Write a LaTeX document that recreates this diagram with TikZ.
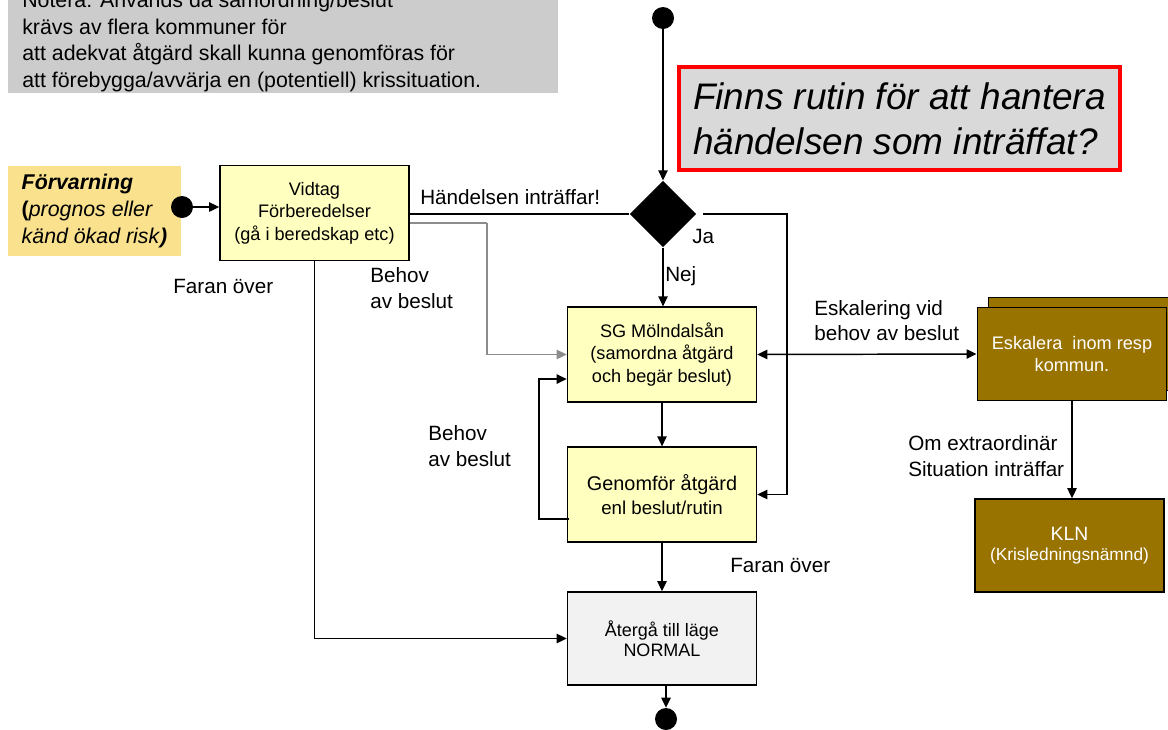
\documentclass[tikz,border=0pt]{standalone}
\usepackage{fontspec}
\setmainfont{Liberation Sans}
\usetikzlibrary{arrows.meta,shapes.geometric,calc}
\definecolor{notegray}{HTML}{CCCCCC}
\definecolor{boxyellow}{HTML}{FFFFC0}
\definecolor{warnyellow}{HTML}{F9E18D}
\definecolor{eskbrown}{HTML}{997300}
\definecolor{qgray}{HTML}{D9D9D9}
\definecolor{retgray}{HTML}{F2F2F2}
\definecolor{linegray}{HTML}{8C8C8C}
\begin{document}
\begin{tikzpicture}[x=0.75pt,y=-0.75pt,
  flowbox/.style={draw=black, line width=1.2pt, fill=boxyellow, align=center, inner sep=0pt,
    minimum width=141.75pt, minimum height=71pt},
  eskbox/.style={draw=black, line width=1.2pt, fill=eskbrown, text=white, align=center, inner sep=0pt,
    minimum width=142pt, minimum height=70pt},
  dot/.style={circle, fill=black, minimum size=16.5pt, inner sep=0pt},
  lbl/.style={font=\fontsize{15.5pt}{19pt}\selectfont, inner sep=0pt, align=left, anchor=west},
  conn/.style={line width=1.1pt, draw=black},
  arr/.style={conn, -{Triangle[length=7.5pt,width=7pt]}},
  grayarr/.style={line width=1.1pt, draw=linegray, -{Triangle[length=7.5pt,width=7pt]}},
  biarr/.style={conn, {Triangle[length=7.5pt,width=7pt]}-{Triangle[length=7.5pt,width=7pt]}}
]
\useasboundingbox (0,0) rectangle (1168,729);

% note box
\fill[notegray] (8,-30) rectangle (558,93);
\node[font=\fontsize{16pt}{20pt}\selectfont, align=left, anchor=west, inner sep=0pt] (note) at (22,41)
  {Notera: Används då samordning/beslut\\krävs av flera kommuner för\\att adekvat åtgärd skall kunna genomföras för\\att förebygga/avvärja en (potentiell) krissituation.};

% question box
\node[draw=red, line width=3pt, fill=qgray, minimum width=330.75pt, minimum height=77.25pt,
  align=left, inner sep=0pt, font=\fontsize{27.7pt}{34pt}\selectfont\itshape] (q) at (899.5,118.5)
  {Finns rutin för att hantera\\händelsen som inträffat?};

% start and decision
\node[dot] (start) at (663,18) {};
\node[diamond, fill=black, minimum width=50pt, minimum height=50pt, inner sep=0pt] (dia) at (663,214) {};

% warning box
\node[fill=warnyellow, minimum width=129.75pt, minimum height=67.5pt, inner sep=0pt,
  align=left, font=\fontsize{16pt}{20pt}\selectfont] (warn) at (94.5,211)
  {\textbf{\textit{Förvarning}}\\\textbf{(}\textit{prognos eller}\\\textit{känd ökad risk}\textbf{\textit{)}}};
\node[dot] (wdot) at (182,207) {};

% boxes
\node[flowbox, font=\fontsize{13.6pt}{17pt}\selectfont] (vid) at (314.5,213) {Vidtag\\Förberedelser\\(gå i beredskap etc)};
\node[flowbox, font=\fontsize{13.6pt}{17pt}\selectfont] (sg) at (662,354.5) {SG Mölndalsån\\(samordna åtgärd\\och begär beslut)};
\node[flowbox, font=\fontsize{14.9pt}{17.6pt}\selectfont] (gen) at (662,494.5) {Genomför åtgärd\\{\fontsize{14pt}{17.6pt}\selectfont enl beslut/rutin}};
\node[flowbox, fill=retgray, minimum height=69.75pt, font=\fontsize{13.5pt}{15pt}\selectfont] (rec) at (662,638.5) {Återgå till läge\\NORMAL};
\node[dot] (endc) at (666,719) {};

% escalation boxes
\node[eskbox] (eskback) at (1083,344) {};
\node[eskbox, font=\fontsize{13.6pt}{16.5pt}\selectfont] (esk) at (1072,354) {Eskalera\ \ inom resp\\kommun.};
\node[eskbox, minimum height=69.75pt, font=\fontsize{13pt}{15pt}\selectfont] (kln) at (1069.5,545.5)
  {{\fontsize{14.5pt}{15pt}\selectfont KLN}\\(Krisledningsnämnd)};

% coordinates
\coordinate (g1) at (487,223);
\coordinate (r1) at (787,214);
\coordinate (lx) at (539,0);
\coordinate (ga) at ([xshift=2pt,yshift=-18.4pt]gen.west);
\coordinate (sa) at ([yshift=-18.4pt]sg.west);
\coordinate (vg) at ([yshift=-7.5pt]vid.east);

% connectors
\draw[arr] (start) -- (dia.north);
\draw[arr] (wdot) -- (wdot -| vid.west);
\draw[conn] (dia.west -| vid.east) -- (dia.west);
\draw[line width=1.1pt, draw=linegray] (vg) -- (g1);
\draw[grayarr] (g1) |- (sg.west);
\draw[arr] (vid.south) |- (rec.west);
\draw[arr] (dia.south) -- (dia.south |- sg.north);
\draw[arr] ([xshift=5pt]dia.east) -- (r1) |- (gen.east);
\draw[biarr] (sg.east) -- (esk.west);
\draw[arr] (esk.south) -- (esk.south |- kln.north);
\draw[arr] (sg.south) -- (gen.north);
\draw[arr] (ga) -- (ga -| lx) |- (sa);
\draw[arr] (gen.south) -- (rec.north);
\draw[arr] (endc |- rec.south) -- (endc.north);

% labels
\node[lbl] (lh) at (420,197) {Händelsen inträffar!};
\node[lbl] (lf1) at (173,286) {Faran över};
\node[lbl] (lb1) at (370,288) {Behov\\av beslut};
\node[lbl] (lnej) at (665,276) {Nej};
\node[lbl] (lja) at (692,236) {Ja};
\node[lbl] (le) at (814,320.5) {Eskalering vid\\behov av beslut};
\node[lbl] (lo) at (908,456) {Om extraordinär\\Situation inträffar};
\node[lbl] (lb2) at (428,446) {Behov\\av beslut};
\node[lbl] (lf2) at (730,565) {Faran över};
\end{tikzpicture}
\end{document}
